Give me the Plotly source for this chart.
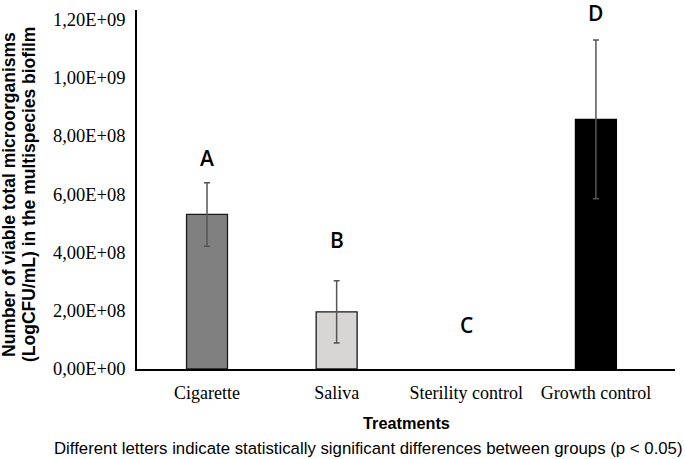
import plotly.graph_objects as go

categories = ["Cigarette", "Saliva", "Sterility control", "Growth control"]
means = [5.30e8, 1.96e8, 0.0, 8.56e8]
errors = [1.09e8, 1.07e8, 0.0, 2.72e8]
bar_colors = ["#808080", "#d8d5d5", "rgba(0,0,0,0)", "#000000"]
bar_edges = ["#1a1a1a", "#1a1a1a", "rgba(0,0,0,0)", "#000000"]
letters = ["A", "B", "C", "D"]
letter_heights = [7.25e8, 4.41e8, 1.50e8, 1.22e9]
ytick_vals = [0, 2e8, 4e8, 6e8, 8e8, 1e9, 1.2e9]
ytick_text = ["0,00E+00", "2,00E+08", "4,00E+08", "6,00E+08", "8,00E+08", "1,00E+09", "1,20E+09"]

xpos = list(range(len(categories)))

L, R, T, B = 137, 10, 10, 90
W, H = 685, 459
PW, PH = W - L - R, H - T - B


def px(x):
    return (x - L) / PW


def py(y):
    return (H - B - y) / PH


fig = go.Figure()
fig.add_trace(go.Bar(
    x=xpos, y=means, width=0.316,
    marker=dict(color=bar_colors, line=dict(color=bar_edges, width=1.3)),
    showlegend=False,
))

# error bars only where an error exists
ex = [x for x, e in zip(xpos, errors) if e > 0]
ey = [m for m, e in zip(means, errors) if e > 0]
ee = [e for e in errors if e > 0]
fig.add_trace(go.Scatter(
    x=ex, y=ey, mode="markers", marker=dict(size=0.1, color="rgba(0,0,0,0)"),
    error_y=dict(type="data", array=ee, visible=True, color="#555555",
                 thickness=1.5, width=3),
    showlegend=False, hoverinfo="skip",
))

for xi, (lt, h) in enumerate(zip(letters, letter_heights)):
    fig.add_annotation(x=xi, y=h, text=lt, showarrow=False, xref="x", yref="y",
                       font=dict(family="Open Sans", size=21, color="black", weight=600))

fig.add_annotation(x=px(406), y=py(423), xref="paper", yref="paper", text="<b>Treatments</b>",
                   showarrow=False, yanchor="middle",
                   font=dict(family="Liberation Sans", size=16.3, color="black"))

fig.add_annotation(x=px(368), y=py(448), xref="paper", yref="paper",
                   text="Different letters indicate statistically significant differences between groups (p < 0.05)",
                   showarrow=False, yanchor="middle",
                   font=dict(family="Liberation Sans", size=16.8, color="black"))

fig.add_annotation(x=px(9), y=py(195), xref="paper", yref="paper",
                   text="<b>Number of viable total microorganisms</b>", textangle=-90,
                   showarrow=False, xanchor="center", yanchor="middle",
                   font=dict(family="Liberation Sans", size=17.5, color="black"))
fig.add_annotation(x=px(29), y=py(195), xref="paper", yref="paper",
                   text="<b>(LogCFU/mL) in the multispecies biofilm</b>", textangle=-90,
                   showarrow=False, xanchor="center", yanchor="middle",
                   font=dict(family="Liberation Sans", size=17.5, color="black"))

fig.update_layout(
    width=W, height=H,
    margin=dict(l=L, r=R, t=T, b=B),
    plot_bgcolor="white", paper_bgcolor="white",
    xaxis=dict(range=[-0.54, 3.61], tickvals=xpos, ticktext=categories,
               showline=True, linecolor="black", linewidth=1.5,
               showgrid=False, zeroline=False, ticks="", ticklabelstandoff=7,
               tickfont=dict(family="Liberation Serif", size=18, color="black")),
    yaxis=dict(range=[0, 1.231e9], tickvals=ytick_vals, ticktext=ytick_text,
               showline=True, linecolor="black", linewidth=1.5,
               showgrid=False, zeroline=False, ticks="", ticklabelstandoff=6,
               tickfont=dict(family="Liberation Serif", size=18.5, color="black")),
)

fig.write_html("out.html")
